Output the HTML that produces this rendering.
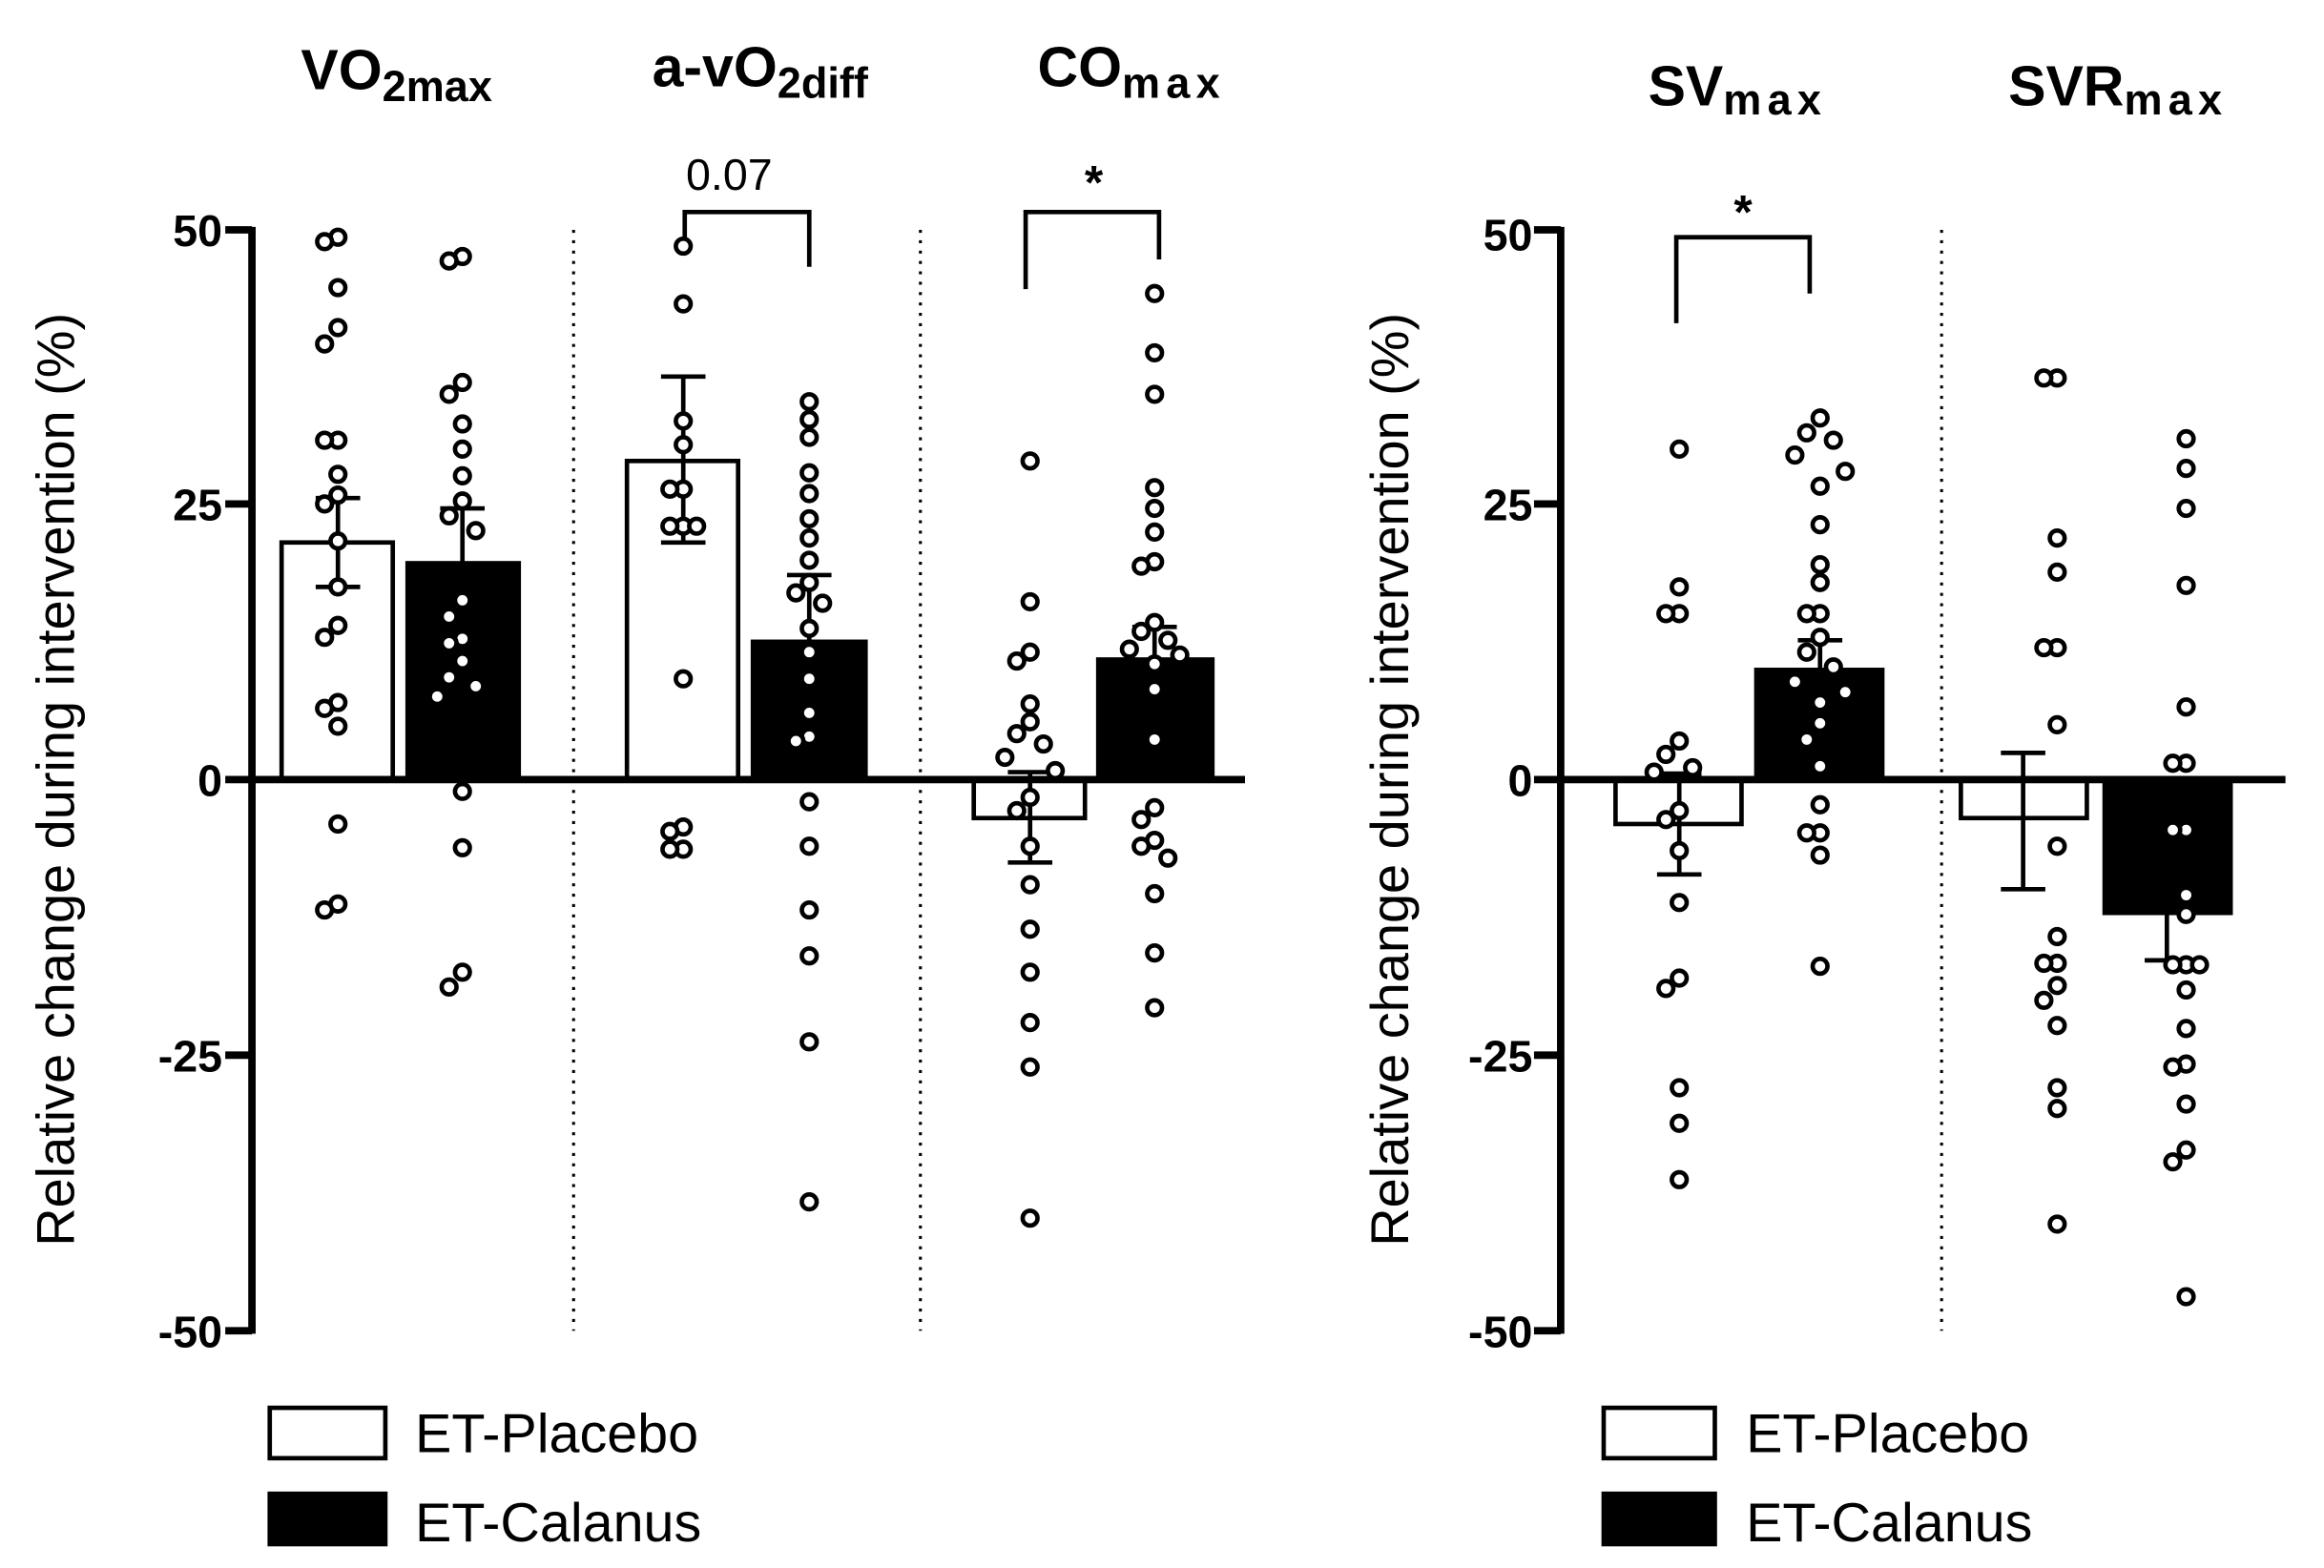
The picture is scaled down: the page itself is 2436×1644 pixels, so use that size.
<!DOCTYPE html>
<html><head><meta charset="utf-8"><style>
html,body{margin:0;padding:0;background:#fff}
svg{display:block}
text{font-family:"Liberation Sans",sans-serif;fill:#000}
</style></head><body>
<svg id="s" width="2436" height="1644" viewBox="0 0 1568 1058" xmlns="http://www.w3.org/2000/svg">
<rect width="1568" height="1058" fill="#fff"/>
<g font-weight="bold" font-size="38">
<text x="203" y="60">VO<tspan font-size="29" dy="8">2max</tspan></text>
<text x="440" y="58">a-vO<tspan font-size="29" dy="8">2diff</tspan></text>
<text x="700" y="58">CO<tspan font-size="29" dy="8" letter-spacing="4">max</tspan></text>
<text x="1112" y="71">SV<tspan font-size="29" dy="6" letter-spacing="4">max</tspan></text>
<text x="1355" y="71">SVR<tspan font-size="29" dy="6" letter-spacing="4">max</tspan></text>
</g>
<text transform="translate(50,526) rotate(-90)" text-anchor="middle" font-size="36">Relative change during intervention (%)</text>
<text transform="translate(950,526) rotate(-90)" text-anchor="middle" font-size="36">Relative change during intervention (%)</text>
<g font-weight="bold" font-size="30" text-anchor="end">
<text x="150" y="166">50</text><text x="150" y="351">25</text><text x="150" y="537">0</text><text x="150" y="723">-25</text><text x="150" y="909">-50</text>
<text x="1034" y="169">50</text><text x="1034" y="351">25</text><text x="1034" y="537">0</text><text x="1034" y="723">-25</text><text x="1034" y="909">-50</text>
</g>
<g stroke="#000" stroke-width="5" fill="none">
<path d="M170 153V900M152 155H170M152 340H170M152 526H170M152 712H170M152 898H170"/>
<path d="M1053 153V900M1035 155H1053M1035 340H1053M1035 526H1053M1035 712H1053M1035 898H1053"/>
</g>
<g stroke="#000" stroke-width="2" stroke-dasharray="2,5">
<path d="M387 155V898M621 155V898M1310 155V898"/>
</g>
<g stroke="#000" stroke-width="3">
<rect x="190" y="366" width="75" height="160" fill="#fff"/>
<rect x="275" y="380" width="75" height="146" fill="#000"/>
<rect x="423" y="311" width="75" height="215" fill="#fff"/>
<rect x="508" y="433" width="76" height="93" fill="#000"/>
<rect x="657" y="526" width="75" height="26" fill="#fff"/>
<rect x="741" y="445" width="77" height="81" fill="#000"/>
<rect x="1090" y="526" width="85" height="30" fill="#fff"/>
<rect x="1185" y="452" width="85" height="74" fill="#000"/>
<rect x="1323" y="526" width="85" height="26" fill="#fff"/>
<rect x="1420" y="526" width="85" height="90" fill="#000"/>
</g>
<g stroke="#000" stroke-width="3" fill="none">
<path d="M228 336V396M213 336H243M213 396H243"/>
<path d="M312 343V414M297 343H327"/>
<path d="M461 254V366M446 254H476M446 366H476"/>
<path d="M546 388V480M531 388H561"/>
<path d="M695 521V582M680 521H710M680 582H710"/>
<path d="M779 423V467M764 423H794"/>
<path d="M1133 522V590M1118 522H1148M1118 590H1148"/>
<path d="M1228 432V470M1213 432H1243"/>
<path d="M1365 508V600M1350 508H1380M1350 600H1380"/>
<path d="M1462 616V648M1447 648H1477"/>
</g>
<g stroke="#000" stroke-width="5"><path d="M170 526H840M1053 526H1542"/></g>
<g stroke="#000" stroke-width="3" fill="none">
<path d="M462 163V143H546V180"/>
<path d="M692 195V143H782V175"/>
<path d="M1131 218V160H1221V198"/>
</g>
<text x="492" y="128" font-size="30" text-anchor="middle">0.07</text>
<text x="738" y="134" font-size="32" font-weight="bold" text-anchor="middle">*</text>
<text x="1176" y="154" font-size="32" font-weight="bold" text-anchor="middle">*</text>
<g stroke="#000" stroke-width="3">
<rect x="182" y="950" width="78" height="34" fill="#fff"/><rect x="182" y="1008" width="78" height="34" fill="#000"/>
<rect x="1082" y="950" width="75" height="34" fill="#fff"/><rect x="1082" y="1008" width="75" height="34" fill="#000"/>
</g>
<g font-size="37">
<text x="280" y="980">ET-Placebo</text><text x="280" y="1040">ET-Calanus</text>
<text x="1178" y="980">ET-Placebo</text><text x="1178" y="1040">ET-Calanus</text>
</g>
<g id="dots" stroke="#000" stroke-width="3"></g>
</svg>
<script>
var groups=[
[228,[160,163,194,221,232,297,297,320,334,340,365,396,422,430,474,478,490,556,614,610]],
[312,[173,176,258,266,286,303,321,338,348,358,405,416,431,434,446,457,463,470,534,572,656,666]],
[461,[166,205,284,300,330,330,355,355,355,458,561,573,573,558]],
[546,[271,283,295,319,333,350,363,378,393,400,407,424,440,458,481,500,497,541,571,614,645,703,811]],
[695,[311,406,440,446,475,487,495,502,511,520,538,547,571,597,627,656,690,720,822]],
[779,[198,238,266,329,343,359,379,382,420,426,432,438,442,448,465,499,545,553,567,571,579,603,643,680]],
[1133,[303,396,414,414,500,509,518,521,547,553,574,609,660,667,734,758,796]],
[1228,[282,292,297,307,318,328,354,381,393,414,414,430,440,450,460,467,474,488,499,517,543,562,562,577,652]],
[1388,[255,255,363,386,437,437,489,571,632,650,650,665,675,692,734,748,826]],
[1475,[296,316,343,395,477,515,515,560,560,604,617,651,651,651,668,694,718,720,745,776,784,875]]
];
var g=document.getElementById('dots'),h='',off=[0,-9,9,-17,17];
groups.forEach(function(gr){var prev=-99,k=0;gr[1].sort(function(a,b){return a-b}).forEach(function(y){
if(y-prev<12)k++;else k=0;prev=y;
h+='<circle cx="'+(gr[0]+off[k%5])+'" cy="'+y+'" r="5" fill="#fff"/>';});});
g.innerHTML=h;
</script>
</body></html>
